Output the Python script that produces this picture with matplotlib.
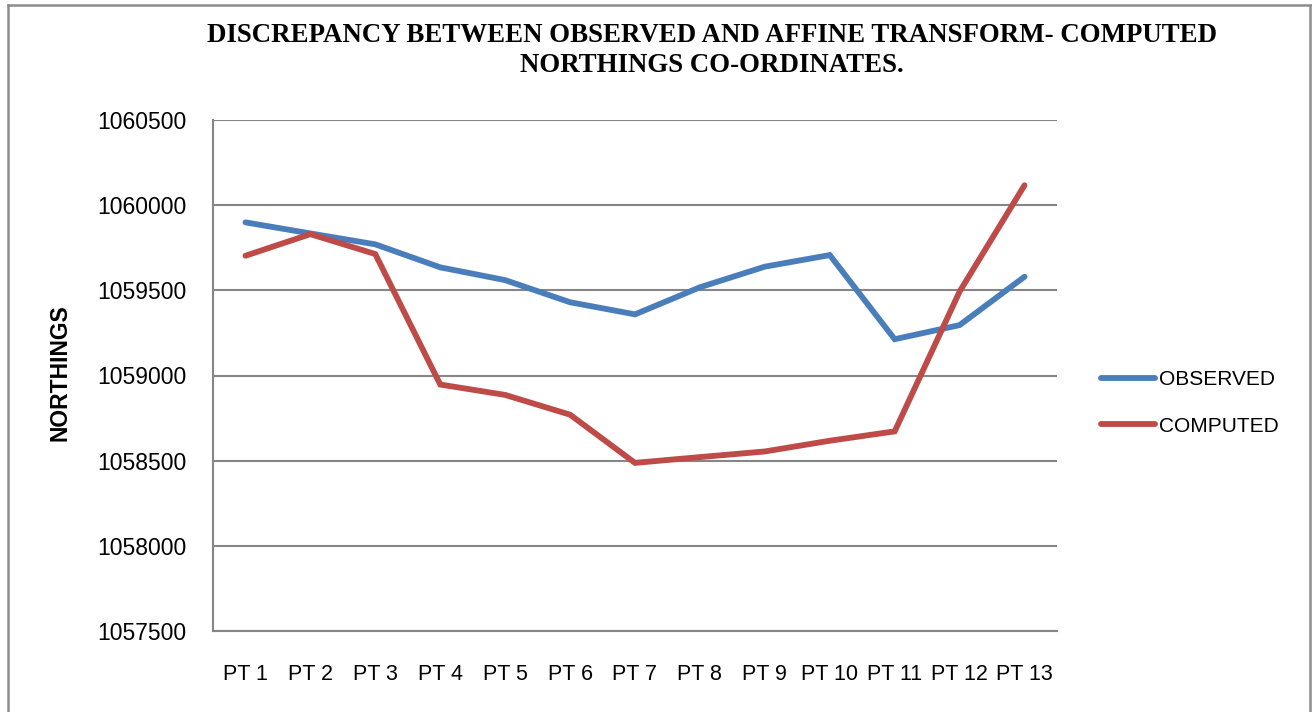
import matplotlib
matplotlib.use("Agg")
import matplotlib.pyplot as plt
from matplotlib.lines import Line2D

points = ["PT 1", "PT 2", "PT 3", "PT 4", "PT 5", "PT 6", "PT 7",
          "PT 8", "PT 9", "PT 10", "PT 11", "PT 12", "PT 13"]
observed = [1059899, 1059834, 1059770, 1059635, 1059560, 1059430, 1059359,
            1059518, 1059639, 1059707, 1059213, 1059296, 1059580]
computed = [1059703, 1059830, 1059713, 1058947, 1058886, 1058770, 1058487,
            1058521, 1058554, 1058617, 1058672, 1059493, 1060117]
yticks = [1057500, 1058000, 1058500, 1059000, 1059500, 1060000, 1060500]

W, H = 1312, 712
fig = plt.figure(figsize=(W / 100, H / 100), dpi=100)
ax = fig.add_axes([213 / W, 1 - 631 / H, (1057 - 213) / W, (631 - 120) / H])

x = list(range(len(points)))
ax.plot(x, observed, color="#4A7EBB", lw=4.2, solid_capstyle="round",
        solid_joinstyle="miter", label="OBSERVED", zorder=3)
ax.plot(x, computed, color="#BE4B48", lw=4.2, solid_capstyle="round",
        solid_joinstyle="miter", label="COMPUTED", zorder=3)

ax.set_xlim(-0.5, len(points) - 0.5)
ax.set_ylim(1057500, 1060500)
ax.set_yticks(yticks)
ax.set_yticklabels([str(v) for v in yticks], fontsize=16.5, family="Liberation Sans")
ax.set_xticks(x)
ax.set_xticklabels(points, fontsize=15.5, family="Liberation Sans")
ax.tick_params(axis="x", length=0, pad=24)
ax.tick_params(axis="y", length=0, pad=19)
ax.grid(axis="y", color="#868686", lw=1.5)
ax.set_axisbelow(True)
for s in ["top", "right"]:
    ax.spines[s].set_visible(False)
for s in ["left", "bottom"]:
    ax.spines[s].set_color("#868686")
    ax.spines[s].set_linewidth(1.5)

fig.text(712 / W, 1 - 35 / H, "DISCREPANCY BETWEEN OBSERVED AND AFFINE TRANSFORM- COMPUTED",
         ha="center", va="center", fontsize=19.4, fontweight="bold",
         family="Liberation Serif")
fig.text(712 / W, 1 - 66 / H, "NORTHINGS CO-ORDINATES.",
         ha="center", va="center", fontsize=19.4, fontweight="bold",
         family="Liberation Serif")
fig.text(60 / W, 1 - 373 / H, "NORTHINGS", rotation=90, ha="center", va="center",
         fontsize=16.5, fontweight="bold", family="Liberation Sans")

handles = [Line2D([], [], color="#4A7EBB", lw=4.2, solid_capstyle="round"),
           Line2D([], [], color="#BE4B48", lw=4.2, solid_capstyle="round")]
fig.legend(handles, ["OBSERVED", "COMPUTED"], loc="center left",
           bbox_to_anchor=(1082 / W, 1 - 403 / H), frameon=False,
           prop={"family": "Liberation Sans", "size": 15},
           handlelength=2.6, handletextpad=0.2, labelspacing=1.3)

# outer chart border (no bottom edge visible)
fig.add_artist(Line2D([8 / W, 8 / W], [0, 1 - 5 / H], color="#8c8c8c", lw=1.8))
fig.add_artist(Line2D([8 / W, 1310 / W], [1 - 5 / H, 1 - 5 / H], color="#8c8c8c", lw=1.8))
fig.add_artist(Line2D([1310 / W, 1310 / W], [0, 1 - 5 / H], color="#8c8c8c", lw=1.8))

fig.savefig("out.png", dpi=100, facecolor="white")
